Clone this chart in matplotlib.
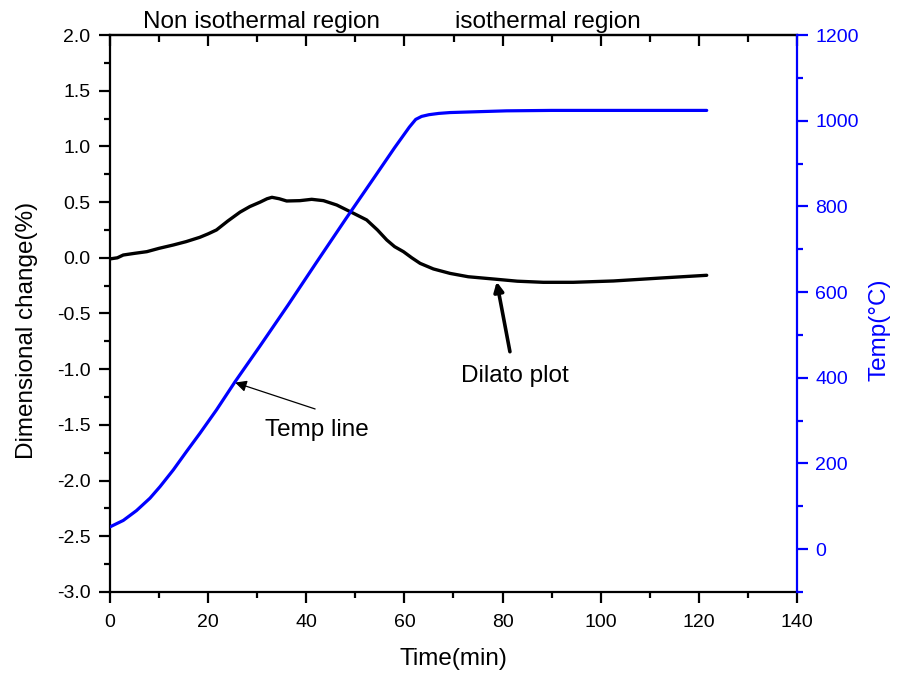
import matplotlib
matplotlib.use("Agg")
import matplotlib.pyplot as plt
from matplotlib.ticker import MultipleLocator

plt.rcParams['font.family'] = ['Liberation Sans', 'DejaVu Sans']

# ---- data ----
temp_time = [0, 2.7, 5.4, 8.15, 10.2, 12.9, 15.6, 18.3, 21.7, 25.5, 30.5, 36.3,
             42.0, 48.0, 54.0, 58.0, 61.0, 62.3, 63.5, 65.0, 67.0, 69.3, 75.0,
             80.8, 90.0, 100.0, 110.0, 121.6]
temp_vals = [52, 67, 90, 119, 146, 185, 228, 270, 325, 391, 473, 570,
             668, 770, 870, 937, 985, 1003, 1010, 1014, 1017, 1019, 1021,
             1023, 1024, 1024, 1024, 1024]

dil_time = [0, 1.5, 2.7, 5.0, 7.5, 10.0, 12.9, 15.5, 18.3, 20.0, 21.7, 24.0,
            26.5, 28.5, 30.6, 32.0, 33.0, 34.5, 36.0, 38.7, 41.1, 43.5,
            46.2, 49.6, 52.3, 54.5, 56.4, 58.0, 59.8, 61.5, 63.2, 65.9,
            69.3, 73.0, 78.8, 83.0, 88.3, 94.4, 102.6, 112.8, 121.6]
dil_vals = [-0.01, 0.0, 0.025, 0.04, 0.055, 0.085, 0.115, 0.145, 0.184, 0.215,
            0.25, 0.33, 0.41, 0.46, 0.50, 0.53, 0.543, 0.53, 0.51, 0.513, 0.525,
            0.513, 0.474, 0.40, 0.34, 0.25, 0.16, 0.10, 0.055, 0.0, -0.05, -0.10,
            -0.14, -0.17, -0.193, -0.21, -0.22, -0.22, -0.208, -0.18, -0.157]

x_ticks = [0, 20, 40, 60, 80, 100, 120, 140]
left_ticks = [-3.0, -2.5, -2.0, -1.5, -1.0, -0.5, 0.0, 0.5, 1.0, 1.5, 2.0]
right_ticks = [0, 200, 400, 600, 800, 1000, 1200]

BLUE = '#0000FF'
TICK_FS = 14
TXT_FS = 17.5

fig = plt.figure(figsize=(9.04, 6.76), dpi=100)
ax = fig.add_axes([110/904, 1 - 592/676, (797-110)/904, (592-35)/676])
ax2 = ax.twinx()

ax.plot(dil_time, dil_vals, color='black', lw=2.4, solid_capstyle='round')
ax2.plot(temp_time, temp_vals, color=BLUE, lw=2.3, solid_capstyle='round')

ax.set_xlim(0, 140)
ax.set_ylim(-3.0, 2.0)
ax2.set_ylim(-100, 1200)

ax.set_xticks(x_ticks)
ax.xaxis.set_minor_locator(MultipleLocator(10))
ax.set_yticks(left_ticks)
ax.set_yticklabels([f"{v:.1f}" for v in left_ticks])
ax.yaxis.set_minor_locator(MultipleLocator(0.25))
ax2.set_yticks(right_ticks)
ax2.yaxis.set_minor_locator(MultipleLocator(100))

for sp in ['left', 'bottom', 'top']:
    ax.spines[sp].set_linewidth(1.6)
    ax.spines[sp].set_color('black')
ax.spines['right'].set_visible(False)
for sp in ['left', 'bottom', 'top']:
    ax2.spines[sp].set_visible(False)
ax2.spines['right'].set_color(BLUE)
ax2.spines['right'].set_linewidth(1.6)

ax.tick_params(axis='x', which='major', direction='out', length=8, width=1.6,
               labelsize=TICK_FS, pad=8, top=False)
ax.tick_params(axis='x', which='minor', direction='out', length=4.5, width=1.6, top=False)
ax.tick_params(axis='y', which='major', direction='out', length=8, width=1.6,
               labelsize=TICK_FS, pad=6, right=False)
ax.tick_params(axis='y', which='minor', direction='out', length=4.5, width=1.6, right=False)

ax2.tick_params(axis='y', which='major', direction='out', length=8, width=1.6,
                labelsize=TICK_FS, pad=5, colors=BLUE)
ax2.tick_params(axis='y', which='minor', direction='out', length=4.5, width=1.6, colors=BLUE)

# top axis with inward ticks, no labels
sec = ax.secondary_xaxis('top')
sec.set_xticks(x_ticks)
sec.xaxis.set_minor_locator(MultipleLocator(10))
sec.tick_params(axis='x', which='major', direction='in', length=8, width=1.6, labeltop=False)
sec.tick_params(axis='x', which='minor', direction='in', length=5, width=1.6)
sec.set_xticklabels([])
sec.spines['top'].set_linewidth(1.6)

ax.set_xlabel('Time(min)', fontsize=TXT_FS)
ax.xaxis.set_label_coords(0.5, -0.1)
ax.set_ylabel('Dimensional change(%)', fontsize=TXT_FS)
ax.yaxis.set_label_coords(-0.105, 0.47)
ax2.set_ylabel('Temp(\u00b0C)', fontsize=TXT_FS, color=BLUE)
ax2.yaxis.set_label_coords(1.104, 0.47)

fig.text(261.5/904, 1 - 28/676, 'Non isothermal region', fontsize=TXT_FS,
         ha='center', va='baseline')
fig.text(548/904, 1 - 28/676, 'isothermal region', fontsize=TXT_FS,
         ha='center', va='baseline')

# annotations
ax.annotate('', xy=(25.5, -1.12), xytext=(41.8, -1.357),
            arrowprops=dict(arrowstyle='-|>', color='black', lw=0.9,
                            mutation_scale=17, shrinkA=0, shrinkB=0))
ax.text(42.2, -1.55, 'Temp line', fontsize=TXT_FS, ha='center', va='center')

ax.annotate('', xy=(78.8, -0.215), xytext=(81.5, -0.843),
            arrowprops=dict(arrowstyle='-|>', color='black', lw=2.6,
                            mutation_scale=14, shrinkA=0, shrinkB=0))
ax.text(82.6, -1.06, 'Dilato plot', fontsize=TXT_FS, ha='center', va='center')

fig.savefig('out.png', dpi=100)
